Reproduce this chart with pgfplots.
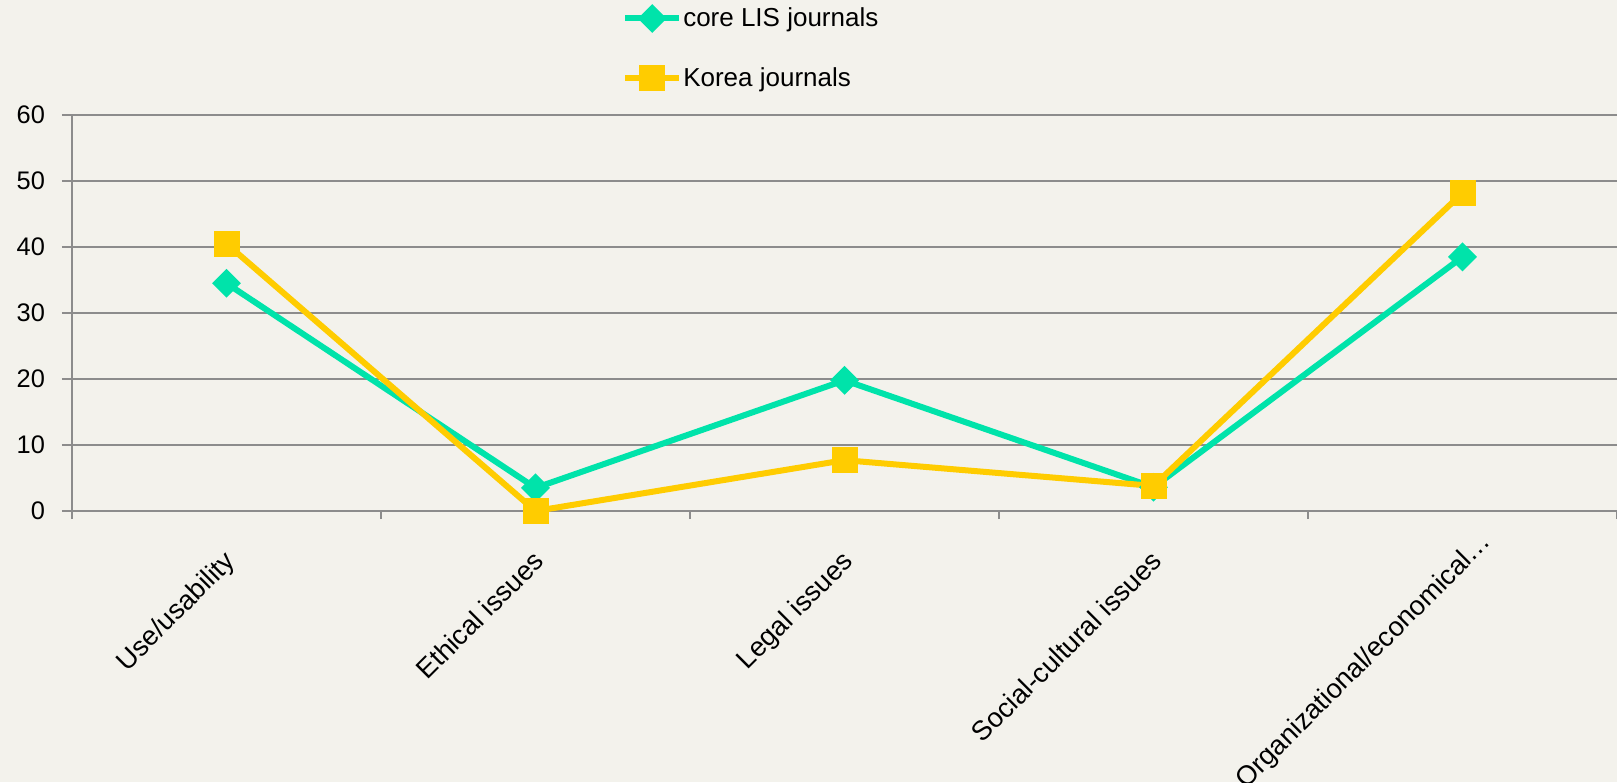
\documentclass[border=0pt]{standalone}
\usepackage{pgfplots}
\pgfplotsset{compat=1.18}
\usepackage{fontspec}
\setmainfont{Liberation Sans}
\definecolor{bg}{HTML}{F3F2EC}
\definecolor{mint}{HTML}{00E3AA}
\definecolor{gold}{HTML}{FFCC00}
\definecolor{gridc}{HTML}{8C8C8C}
\begin{document}
\begin{tikzpicture}
\fill[bg] (0,0) rectangle (808.5pt,391pt);
\begin{scope}
\clip (0,0) rectangle (808.5pt,391pt);
\begin{axis}[
  at={(36pt,135.5pt)}, anchor=south west,
  scale only axis, width=772.5pt, height=198pt,
  xmin=-0.5, xmax=4.5, ymin=0, ymax=60,
  ytick={0,10,20,30,40,50,60},
  xtick={0,1,2,3,4},
  xticklabels={Use/usability, Ethical issues, Legal issues, Social-cultural issues, {Organizational/economical…\hspace*{-14pt}}},
  minor xtick={-0.5,0.5,1.5,2.5,3.5,4.5},
  major x tick style={draw=none},
  minor tick length=4pt,
  major tick length=5pt,
  tick align=outside,
  tick style={gridc, line width=1pt},
  axis x line*=bottom, axis y line*=left,
  axis line style={-, gridc, line width=1pt},
  ymajorgrids, grid style={gridc, line width=1pt},
  font=\fontsize{12.7}{15}\selectfont,
  /pgf/number format/assume math mode=true,
  yticklabel style={xshift=-5pt},
  xticklabel style={xshift=-2pt, yshift=-11pt, rotate=45, anchor=north east, inner sep=2pt, font=\fontsize{13.6}{16}\selectfont},
  legend style={at={(0.352,1.285)}, anchor=north west, draw=none, fill=none,
    font=\fontsize{13}{15}\selectfont, row sep=18pt,
    nodes={inner sep=0.5pt}},
  legend cell align=left,
  legend image code/.code={\draw[#1, mark repeat=2, mark phase=2] plot coordinates {(0pt,0pt) (13.5pt,0pt) (27pt,0pt)};},
]
\addplot[mint, line width=3pt, mark=square*, mark size=3.6pt, mark options={rotate=45, solid, fill=mint}]
  coordinates {(0,34.5) (1,3.5) (2,19.8) (3,3.6) (4,38.5)};
\addlegendentry{core LIS journals}
\addplot[gold, line width=3pt, mark=square*, mark size=5pt, mark options={solid, fill=gold}]
  coordinates {(0,40.5) (1,0) (2,7.7) (3,3.8) (4,48.2)};
\addlegendentry{Korea journals}
\end{axis}
\end{scope}
\pgfresetboundingbox
\useasboundingbox (0,0) rectangle (808.5pt,391pt);
\end{tikzpicture}
\end{document}
